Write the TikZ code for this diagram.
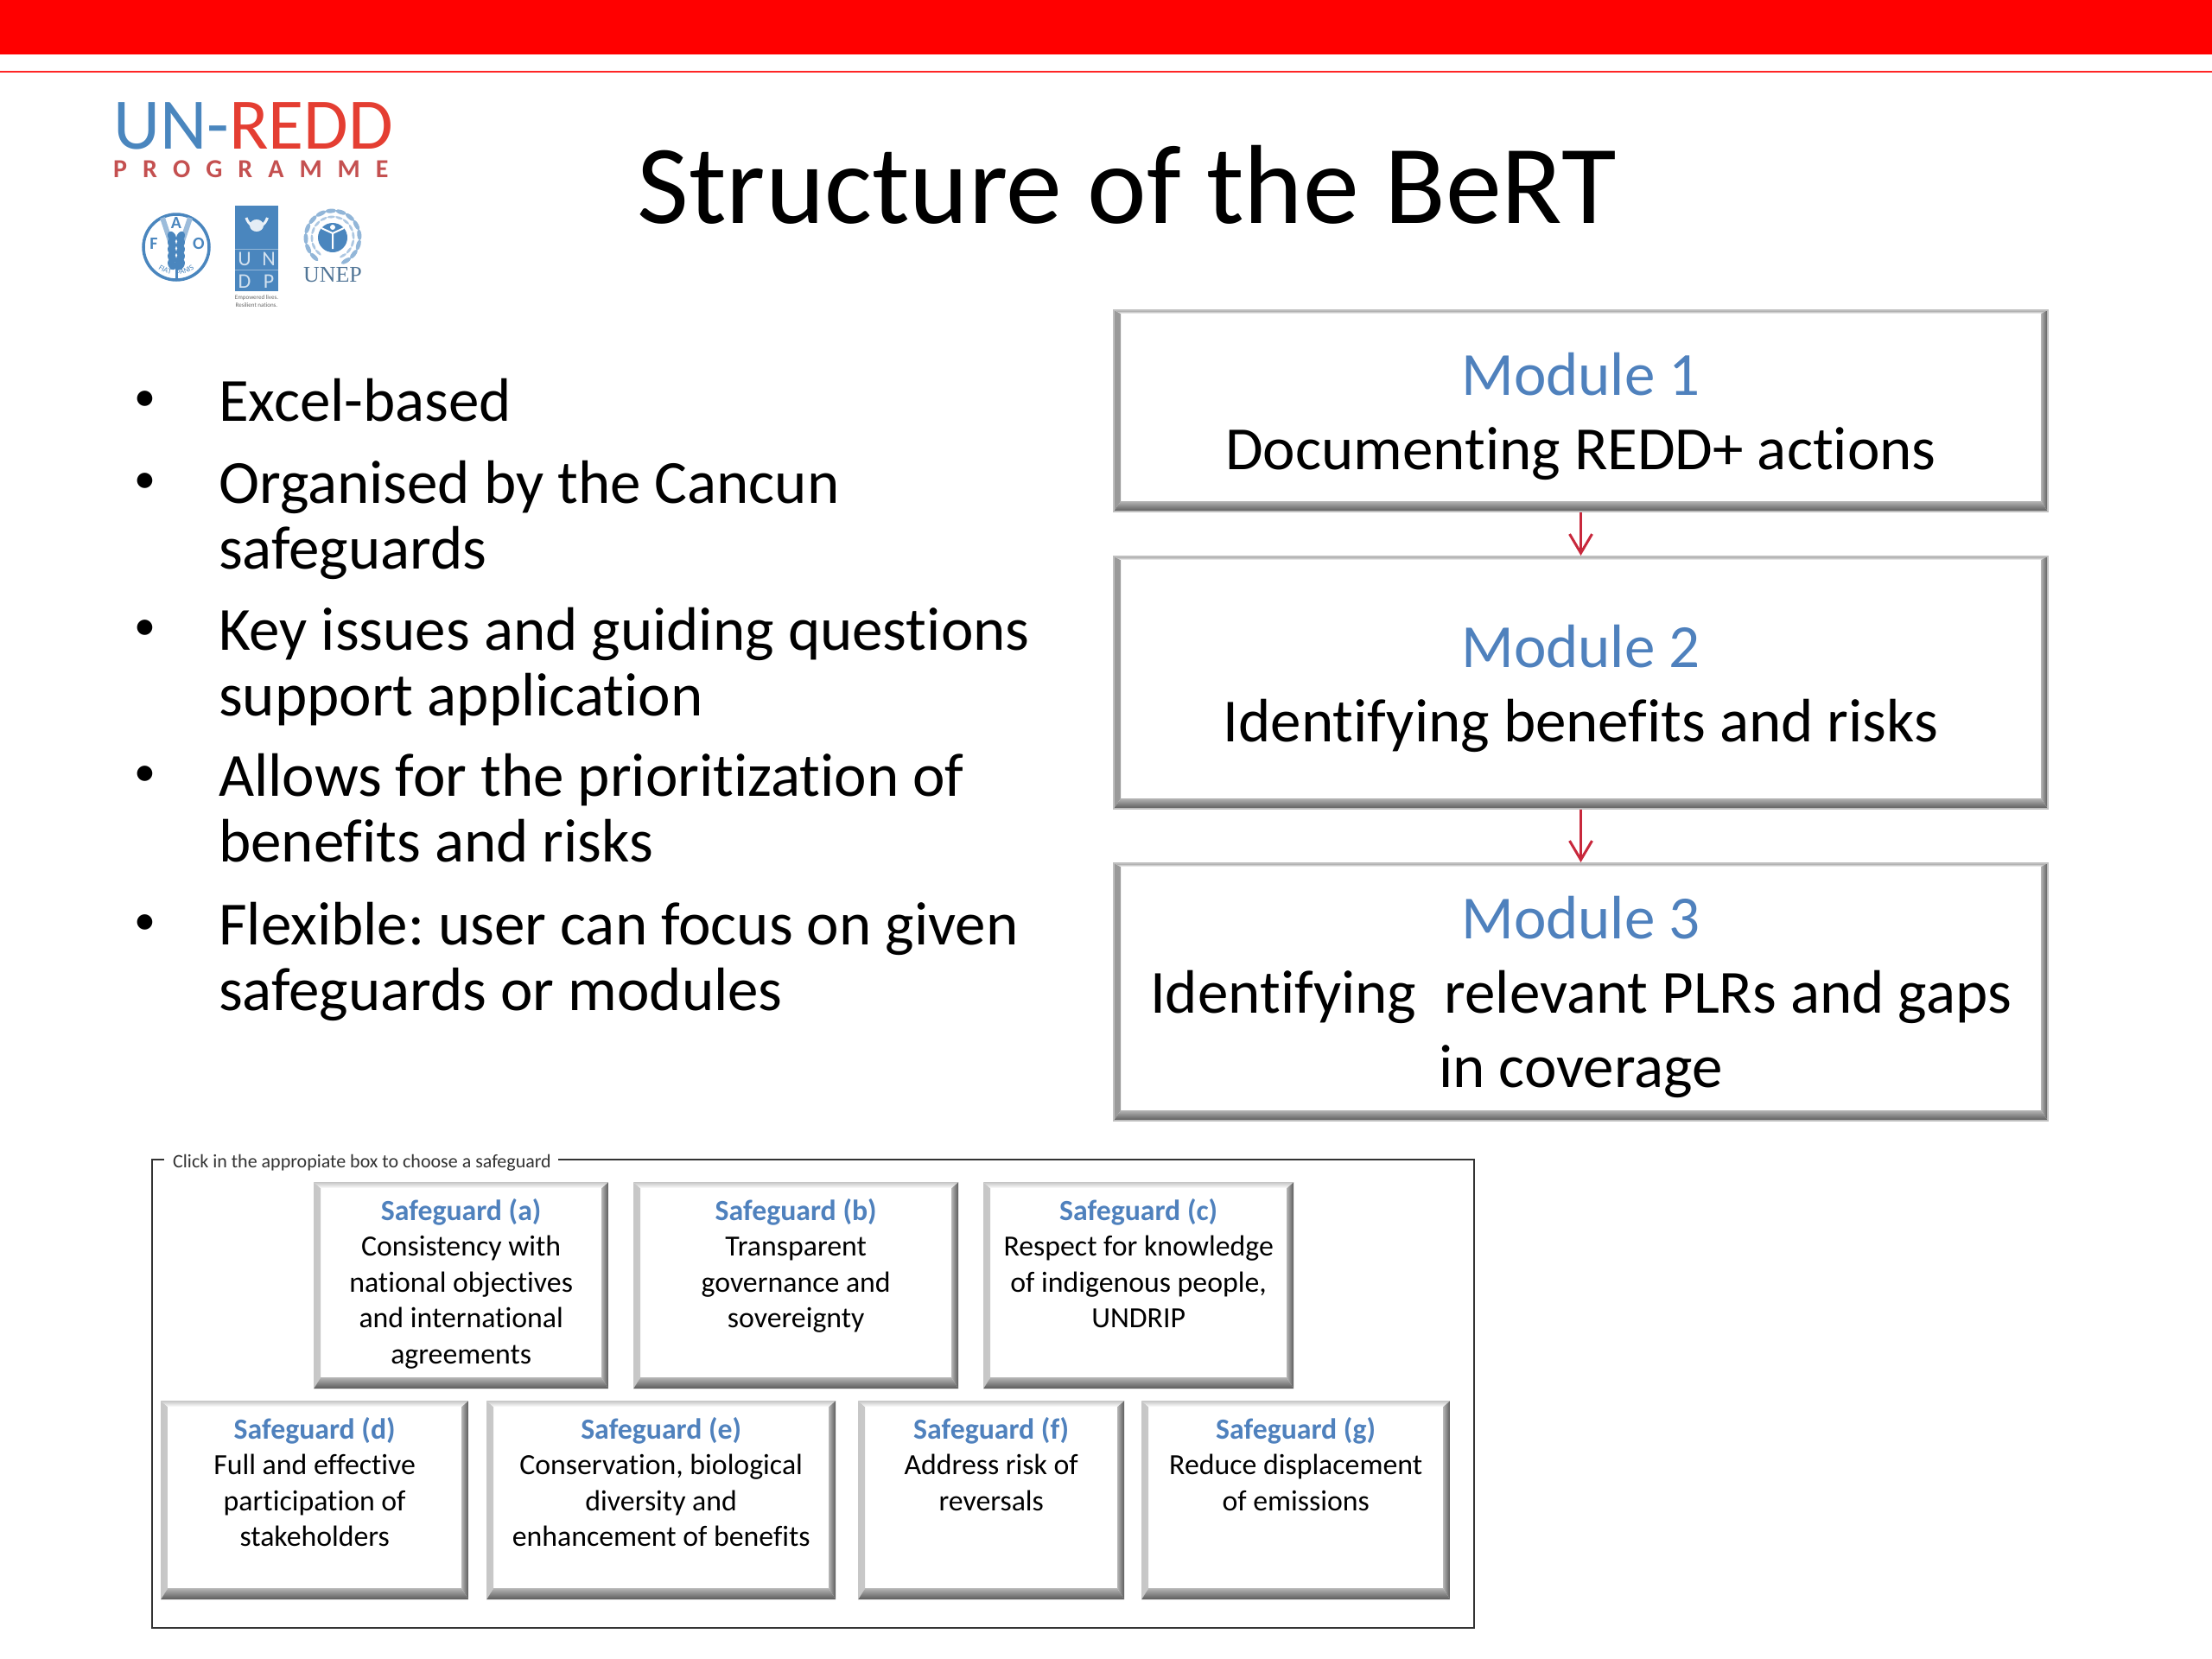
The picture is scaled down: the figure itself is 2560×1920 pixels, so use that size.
\documentclass[tikz,border=0pt]{standalone}
\usepackage{fontspec}
\setmainfont{Carlito}[Ligatures=NoCommon]
\newfontfamily\unepfont{Liberation Serif}
\usetikzlibrary{arrows.meta,decorations.text}
\definecolor{bandred}{RGB}{255,0,0}
\definecolor{arrowred}{RGB}{200,40,60}
\definecolor{modblue}{RGB}{79,129,189}
\definecolor{logoblue}{RGB}{74,134,190}
\definecolor{logored}{RGB}{228,62,50}
\definecolor{progred}{RGB}{196,80,80}
\definecolor{bevdark}{RGB}{89,89,89}
\newcommand{\pbb}{path picture bounding box}
\tikzset{
  % args: width, height, first baseline, side, top, bottom, light
  bevelbox/.style n args={7}{inner sep=0pt, anchor=north west, align=flush center,
    text width=#1pt, text height=#3pt, text depth=#2pt-#3pt,
    path picture={
      \shade[left color=#7, right color=white] (\pbb.south west) -- (\pbb.north west)
        -- ++(#4pt,-#5pt) -- ([shift={(#4pt,#6pt)}]\pbb.south west) -- cycle;
      \shade[top color=#7, bottom color=white] (\pbb.north west) -- (\pbb.north east)
        -- ++(-#4pt,-#5pt) -- ([shift={(#4pt,-#5pt)}]\pbb.north west) -- cycle;
      \shade[left color=bevdark!45!white, right color=bevdark] (\pbb.south east) -- (\pbb.north east)
        -- ++(-#4pt,-#5pt) -- ([shift={(-#4pt,#6pt)}]\pbb.south east) -- cycle;
      \shade[top color=bevdark!45!white, bottom color=bevdark] (\pbb.south west) -- (\pbb.south east)
        -- ++(-#4pt,#6pt) -- ([shift={(#4pt,#6pt)}]\pbb.south west) -- cycle;
    }},
  modbox/.style n args={3}{bevelbox={#1}{#2}{#3}{8}{4}{12}{black!40},
    draw=black!25, line width=2pt, font=\fontsize{71}{86}\selectfont},
  safebox/.style 2 args={bevelbox={#1}{#2}{44}{8}{7}{13}{black!22},
    font=\fontsize{33.8}{41.5}\selectfont},
  bullettext/.style={anchor=base west, inner sep=0pt, text width=1000pt, align=flush left,
    font=\fontsize{71}{76.7}\selectfont},
  dotmark/.style={anchor=base, inner sep=0pt, font=\fontsize{50}{50}\selectfont},
  modarrow/.style={draw=arrowred, line width=3pt, -{Straight Barb[length=22pt,width=26pt]}},
  grain/.style={fill=logoblue},
  faotext/.style={font=\fontsize{20}{20}\selectfont\bfseries, text=logoblue, inner sep=0pt},
}
\newcommand{\modhead}[1]{\textcolor{modblue}{#1}}
\newcommand{\safehead}[1]{\textcolor{modblue}{\textbf{#1}}}
\begin{document}
\frenchspacing
\begin{tikzpicture}[x=1pt,y=-1pt]
\useasboundingbox (0,0) rectangle (2560,1920);
% top band
\fill[bandred] (0,0) rectangle (2560,63);
\draw[bandred!85, line width=2.5pt] (0,83) -- (2560,83);
% logo
\node[anchor=base west, inner sep=0pt, font=\fontsize{84}{84}\selectfont] (unredd) at (131,172)
  {\textcolor{logoblue}{UN-}\textcolor{logored}{REDD}};
\node[anchor=base west, inner sep=0pt, font=\fontsize{30}{30}\selectfont\bfseries, text=progred] (progr) at (131,205)
  {P\hspace{18pt}R\hspace{18pt}O\hspace{18pt}G\hspace{18pt}R\hspace{18pt}A\hspace{18pt}M\hspace{18pt}M\hspace{18pt}E};
% FAO
\draw[logoblue, line width=3.5pt] (204,286) circle (38);
\draw[logoblue!55, line width=6pt] (188,252) -- (199,285) (220,252) -- (209,285);
\draw[logoblue, line width=3pt] (204,300) -- (204,323);
\foreach \gy in {274,282,...,306} {
  \fill[grain, rotate around={25:(199,\gy)}] (199,\gy) ellipse (4.5 and 6.5);
  \fill[grain, rotate around={-25:(209,\gy)}] (209,\gy) ellipse (4.5 and 6.5);
}
\node[faotext] (faoa) at (204,258) {A};
\node[faotext] (faof) at (178,282) {F};
\node[faotext] (faoo) at (230,282) {O};
\path[decorate, decoration={text along path, text align=center,
    text={|\fontsize{9}{9}\selectfont\color{logoblue}|FIAT {  } PANIS}}]
  (174,300) .. controls (184,324) and (224,324) .. (234,300);
% UNDP
\fill[logoblue] (272,238) rectangle (322,337);
\draw[logoblue!60!white, line width=0.8pt] (272,288) -- (322,288) (272,312) -- (322,312);
\draw[white!90!logoblue, line width=3pt] (285,252) arc[start angle=200, end angle=340, x radius=13, y radius=-16];
\fill[white!85!logoblue] (297,261) ellipse (8 and 7);
\foreach \lab/\px/\py in {U/283/300, N/311/300, D/283/326, P/311/326}
  \node[font=\fontsize{24}{24}\selectfont, text=white!75!logoblue, inner sep=0pt] (undp\lab) at (\px,\py) {\lab};
\node[font=\fontsize{7}{9}\selectfont, text=black!60, align=center, inner sep=0pt] (undpcap) at (297,349) {Empowered lives.\\Resilient nations.};
% UNEP
\foreach \a in {-60,-38,...,240} {
  \fill[logoblue!60, rotate around={\a+90:(385+31*cos \a,275-31*sin \a)}] (385+31*cos \a,275-31*sin \a) ellipse (6.5 and 2.5);
  \fill[logoblue!45, rotate around={\a+90:(385+24*cos \a,275-24*sin \a)}] (385+24*cos \a,275-24*sin \a) ellipse (4.5 and 1.5);
}
\fill[logoblue] (385,275) circle (17);
\draw[white, line width=2pt] (372,264) -- (385,270) -- (398,264) (385,270) -- (385,288);
\fill[white] (385,263) circle (3);
\node[font=\fontsize{26}{26}\selectfont\unepfont, text=black!30!logoblue!85, inner sep=0pt] (uneplab) at (385,318) {UNEP};
% title
\node[anchor=base, inner sep=0pt, font=\fontsize{130}{130}\selectfont] (title) at (1304,258) {Structure of the BeRT};
% bullets
\node[dotmark] (dota) at (168,475) {•};
\node[bullettext] (excel) at (253,487) {Excel-based};
\node[dotmark] (dotb) at (168,570) {•};
\node[bullettext] (organ) at (253,582) {Organised by the Cancun\\safeguards};
\node[dotmark] (dotc) at (168,740) {•};
\node[bullettext] (keyiss) at (253,752) {Key issues and guiding questions\\support application};
\node[dotmark] (dotd) at (168,909) {•};
\node[bullettext] (allows) at (253,921) {Allows for the prioritization of\\benefits and risks};
\node[dotmark] (dote) at (168,1081) {•};
\node[bullettext] (flex) at (253,1093) {Flexible: user can focus on given\\safeguards or modules};
% modules
\node[modbox={1081}{233}{98}] (moda) at (1288,358) {\modhead{Module 1}\\Documenting REDD+ actions};
\node[modbox={1081}{292}{128}] (modb) at (1288,643) {\modhead{Module 2}\\Identifying benefits and risks};
\node[modbox={1081}{298}{87}] (modc) at (1288,998) {\modhead{Module 3}\\Identifying\ \ relevant PLRs and gaps\\in coverage};
\draw[modarrow] (moda) -- (modb);
\draw[modarrow] (modb) -- (modc);
% safeguard frame
\draw[black!80, line width=1.6pt] (190,1342) -- (176,1342) -- (176,1884) -- (1706,1884) -- (1706,1342) -- (646,1342);
\node[anchor=west, inner sep=0pt, font=\fontsize{22}{22}\selectfont, text=black!80] (framelab) at (200,1346) {Click in the appropiate box to choose a safeguard};
% safeguards
\node[safebox={341}{239}] (safea) at (363,1368) {\safehead{Safeguard (a)}\\Consistency with\\national objectives\\and international\\agreements};
\node[safebox={376}{239}] (safeb) at (733,1368) {\safehead{Safeguard (b)}\\Transparent\\governance and\\sovereignty};
\node[safebox={359}{239}] (safec) at (1138,1368) {\safehead{Safeguard (c)}\\Respect for knowledge\\of indigenous people,\\UNDRIP};
\node[safebox={356}{230}] (safed) at (186,1621) {\safehead{Safeguard (d)}\\Full and effective\\participation of\\stakeholders};
\node[safebox={404}{230}] (safee) at (563,1621) {\safehead{Safeguard (e)}\\Conservation, biological\\diversity and\\enhancement of benefits};
\node[safebox={308}{230}] (safef) at (993,1621) {\safehead{Safeguard (f)}\\Address risk of\\reversals};
\node[safebox={357}{230}] (safeg) at (1321,1621) {\safehead{Safeguard (g)}\\Reduce displacement\\of emissions};
\end{tikzpicture}
\end{document}
